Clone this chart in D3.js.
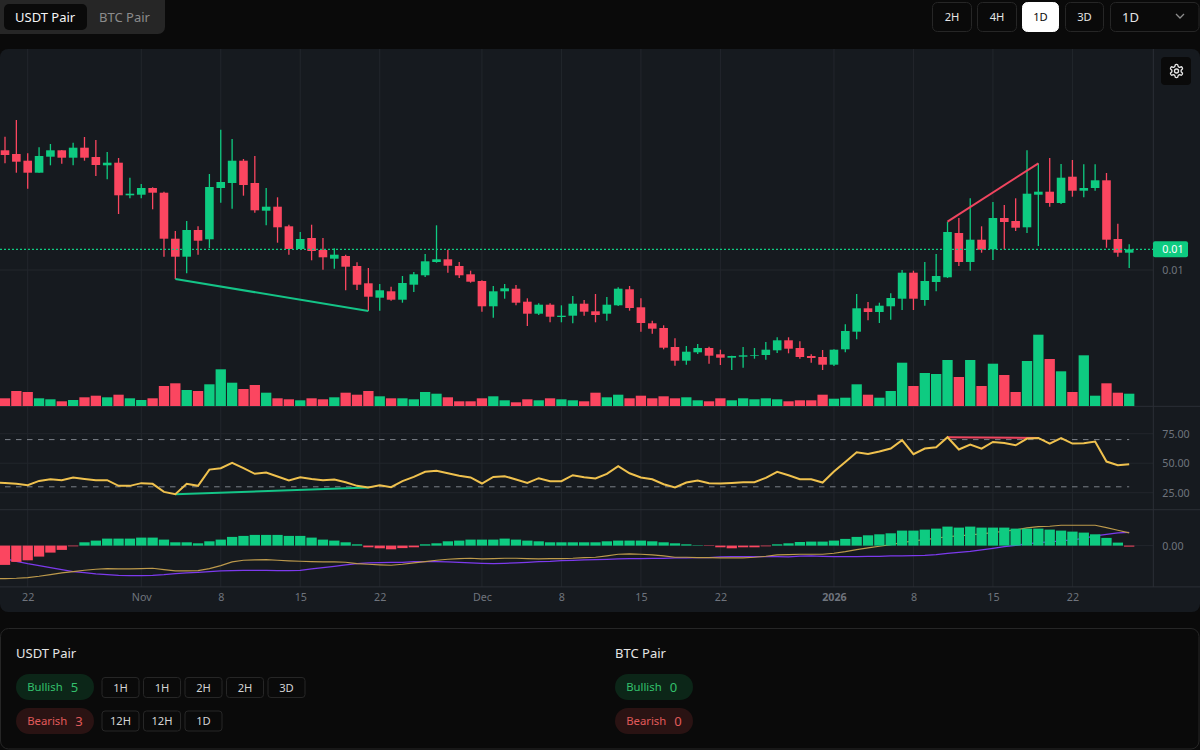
<!DOCTYPE html>
<html>
<head>
<meta charset="utf-8">
<script src="https://cdn.jsdelivr.net/npm/d3@7"></script>
<style>
    html, body { margin: 0; background: #0a0a0a; }
    svg { display: block; }
    text { font-family: "Noto Sans", sans-serif; }
</style>
</head>
<body>
<div id="chart"></div>
<script>
// prices are in units of 0.00001, so 1000 is the 0.01 grid line
const highs = [1133.3,1150,1116.7,1122.7,1126,1120,1127.3,1133,1130,1118,1112,1092.3,1086,1082.7,1078.3,1039,1049,1043.7,1096,1140.3,
    1131,1111,1114,1082,1072.7,1045.3,1038,1045.3,1032,1021.7,1015.3,1007.7,1002,986,983.3,994,998,1016,1044.7,1020.3,
    1008,999.3,989.7,984,986,985,971.7,966.7,966.7,964.7,974,970,976,973,982.7,984,971.7,949.3,944.7,931.7,
    924,926,923.3,920.3,914.3,923,922,928,932.7,932.7,928.7,915.7,920,920.7,945.7,976,968,967.3,976.7,1000,
    999.3,1008,1016,1048.3,1052,1071.7,1043.7,1068,1065,1071.7,1119.7,1106.7,1112,1106,1110,1105.7,1105.7,1097,1046.3,1025.7];
const opens = [1119.7,1116,1109.3,1097.3,1113.3,1119.7,1112.3,1122.3,1113,1104.7,1107.3,1074.7,1075.3,1082,1077.3,1031.3,1013.3,1040,1030.7,1082,
    1087,1109.3,1087,1059.3,1063.3,1043.7,1021,1032,1020,1011.3,1014,1004,986.7,972.3,978.7,970.3,985.3,994.7,1008,1010.7,
    1004,995.7,989,963.7,978.7,981.3,968.3,956.3,965.3,953,954.3,966.3,958.7,956.3,964.7,980.7,962.7,946.7,942,923,
    909.3,917.7,922,915.7,912.3,913.3,914.3,915,919.7,929.7,922,914,913,905.3,920.7,938.3,961.7,958,963.7,971.3,
    997.3,970,988,992.7,1037,1008,1030.3,1020.7,1052,1049,1042.7,1075.3,1078.3,1067,1093.3,1079.3,1082,1089.7,1031,1017.3];
const closes = [1115,1108.3,1097.3,1114,1119.7,1112.3,1122.3,1112.3,1105,1107.3,1074.7,1076.3,1082,1077.3,1031.3,1013.3,1040,1029.3,1083,1088,
    1109.3,1085,1059.7,1063.3,1042.7,1021,1031,1019,1012.7,1015.3,1003.3,985.3,973.3,979.7,970.3,987,995.7,1008.7,1010.7,1004.3,
    994.7,988.3,963.7,978.7,981.7,967.3,956.3,965.3,953.3,954.3,966.3,958.3,955,965.3,981.3,962,947,941.3,922.3,909.3,
    918.3,922,914.3,912.3,914,914.7,915,920.3,929.7,921.3,913,912,905.3,920.3,939,961.7,958,964.3,972,997.3,
    971.3,989,994,1038,1008,1030.3,1020.3,1052,1048,1042.3,1076.3,1078.3,1067,1092.3,1079.3,1082,1089.7,1030.3,1017.3,1020.7];
const lows = [1106.7,1097.3,1081.3,1097.3,1104.7,1106.3,1104.7,1109.3,1094,1090.7,1056,1071.7,1071.7,1060.7,1013.3,991,996.7,1015.3,1022,1067.3,
    1061.3,1074.3,1057.3,1044.7,1027.3,1015.3,1021,1009.7,1000.3,1001.3,979.7,980,959,959.3,969.3,967.3,978,993,1007.3,997.3,
    992,987.3,958.3,952.3,971.3,964.7,944,955,947.7,947.7,946.7,954.3,947.7,949.3,964,959.3,938.3,936.3,920.7,904.3,
    905.3,916,906.3,905,900,902.3,911.3,910.3,917,916.7,911.3,907.3,900,904,917.7,930.7,949.7,947,950.3,960,
    960,964.3,978.7,992,1004,999.3,1017.3,1010,1020.7,1039,1037,1024,1063.3,1066,1073.3,1072.7,1079.3,1022.3,1013.3,1002];
const volumes = [7.7,15,14,7.7,6.7,4.7,6,8.7,10.3,8.7,11.3,7.7,6,7.7,20,22.7,16,15,21.7,36.7,
    23.3,17,21,13.3,7.7,6.7,5.7,7.7,6.7,8.7,13.3,11.3,15,9.7,7.7,7.7,6.7,14,12.3,8.7,
    4.7,4.7,7.7,9.7,5.7,3.7,6.7,5.7,7.7,6.7,5.7,4.7,13.3,8.7,11.3,7.7,10.3,7.7,9.7,7.7,
    8.7,5.7,4.7,7.7,5.7,7.7,6.7,7.7,6.7,4.7,5.7,5.7,11.3,7.3,8.3,21.7,11.3,8.3,15,43.3,
    20,33,32,46,29,46,20,42.3,31,14,45,71.3,47,34.7,14,50.7,10.3,22.7,13.3,12.3];
const rsiValues = [33.3,32.5,31.4,35,36.4,35.6,37.9,36.7,35.6,35.6,30.8,30.8,33.1,32.5,25.7,23.7,32.5,30.8,44.6,45.8,
    50.3,45.8,41,42.1,38.7,35.3,38.1,36.7,35.6,36.2,33.9,30.8,29.4,31.4,29.7,34.8,38.4,42.7,43.5,41.5,
    39.3,37.9,32.8,38.4,39,36.2,33.3,37.3,34.8,34.8,39.8,38.1,37,41,47.5,41.5,37.9,36.4,32.2,29.4,
    33.6,35.3,33.1,32.8,33.3,33.9,33.9,37.6,42.7,39.8,36.4,36.4,33.6,42.9,51.1,59.3,57.9,59.9,62.4,69.5,
    57.6,62.4,63.5,72,61.6,65.8,62.4,68,67.2,65.2,70.9,71.4,66.6,71.2,66.6,66.9,68.3,51.4,48.3,49.1];
const macdHist = [-19.3,-16.3,-14.7,-11,-7,-4.3,-0.7,3.3,5,7,7,7,8,8,6,3.3,3.3,2.3,4.3,6,
    8.7,9.7,10.7,10.7,10.7,9.7,9.7,8,6,5,3.3,1.3,-1.7,-2.7,-3.7,-2.5,-1.7,1.3,2.3,4.3,
    5,6,6,6,7,6,5,4.3,3.3,3.3,3.3,3.3,3.3,4.3,5,5,5,4.3,3.3,2.3,
    1.3,0.4,-0.4,-1.7,-2.7,-1.7,-1.7,-0.7,1.3,2.3,3.6,4,4,5,6.7,8.7,10.3,11.3,12.3,15,
    15,16,17,19,18,19,18,18,18,17,17,17,16,15,14,13,11.3,7.7,3,-1];
const macdLine = [-33,-32.7,-32,-30.7,-29,-27.3,-26,-24.7,-23.7,-23,-23.3,-23.3,-23,-22.7,-24,-25.3,-25.3,-25,-23,-20,
    -16.3,-14.7,-14.3,-14,-14.7,-15.3,-15.7,-16,-16.3,-16.3,-16.7,-18,-18.7,-19.3,-19.7,-18.7,-17.3,-16,-14.7,-13.7,
    -13,-12.7,-13.3,-13,-12.7,-12.7,-13,-13.3,-13,-13,-12.7,-12,-11.7,-10.3,-8.7,-8.3,-8.7,-9.3,-10.3,-11.7,
    -11.7,-12,-12,-12.3,-12.3,-12.3,-11.7,-10.7,-9.3,-9,-8.7,-8.7,-8.7,-7.7,-6,-4,-2.3,-0.7,1,3,
    4.7,6,7.3,9,9.7,10.7,11.7,13,14.3,15.7,17.7,19,19.3,20.3,20.3,20.3,20.3,18,15.3,12.7];
const macdSignal = [-13,-15.7,-18,-20,-22,-24,-26,-27,-28.3,-29,-29.7,-30,-30,-29.7,-29,-28,-27.3,-26.7,-26,-25.3,
    -25,-24.7,-24.7,-24.7,-25,-25,-24.7,-23.3,-22,-20.7,-19.3,-18,-17.3,-17,-16.7,-16.7,-16,-16,-16,-16.3,
    -16.7,-17.3,-17.7,-18,-17.7,-17.3,-16.7,-16,-15.7,-15,-14.7,-14.3,-14,-13.7,-13.3,-13,-13,-12.7,-12.7,-12.3,
    -12.3,-12,-12,-11.3,-11,-11,-11,-11,-11,-11.3,-10.5,-10.3,-10.7,-11,-11,-11,-10.7,-10.7,-10.3,-10.3,
    -10,-9.7,-9,-7.7,-6.7,-5.7,-4.3,-2.7,-1,0.3,1.7,3,3.7,4.7,5.7,7.3,9.7,11.3,12.7,13.3];

// the indicator lines carry on past the left edge, these are the points of the day before
const rsiLead = 33.4;
const macdLineLead = -33.1;
const macdSignalLead = -10;

const firstDay = "2025-10-20";
const lastDay = "2026-01-28";
const tickDates = ["2025-10-22","2025-11-01","2025-11-08","2025-11-15","2025-11-22","2025-12-01","2025-12-08","2025-12-15","2025-12-22","2026-01-01","2026-01-08","2026-01-15","2026-01-22"];
const tickLabels = ["22","Nov","8","15","22","Dec","8","15","22","2026","8","15","22"];
const priceTicks = [1000];
const rsiTicks = [25, 50, 75];
const rsiBands = [30, 70];
const macdTicks = [0];
const bullishDivergence = [15, 32];
const bearishDivergence = [83, 91];

const tabLabels = ["USDT Pair", "BTC Pair"];
const intervalButtons = ["2H", "4H", "1D", "3D"];
const selectedInterval = "1D";
const signalPairs = ["USDT Pair", "BTC Pair"];
const bullishCounts = [5, 0];
const bearishCounts = [3, 0];
const usdtBullishChips = ["1H", "1H", "2H", "2H", "3D"];
const usdtBearishChips = ["12H", "12H", "1D"];

const green = "#0ecb81";
const red = "#fb4660";
const gridColor = "#22262c";
const axisText = "#6f747d";

const width = 1200;
const height = 750;
const plotRight = 1153.3;

const svg = d3.select("#chart").append("svg")
    .attr("width", width)
    .attr("height", height);

const parseDay = d3.utcParse("%Y-%m-%d");
const days = d3.utcDay.range(parseDay(firstDay), parseDay(lastDay));
const leadDay = d3.utcDay.offset(days[0], -1);
const x = d3.scaleUtc()
    .domain([days[0], days[days.length - 1]])
    .range([5, 1129.2]);

const yPrice = d3.scaleLinear().domain([900, 1100]).range([370, 170]);
const yVolume = d3.scaleLinear().domain([0, 100]).range([406, 306]);
const yRsi = d3.scaleLinear().domain([25, 75]).range([492.7, 433.7]);
const yMacd = d3.scaleLinear().domain([-40, 40]).range([585.6, 505.6]);

// panel
svg.append("rect")
    .attr("y", 49).attr("width", width).attr("height", 563).attr("rx", 8)
    .attr("fill", "#161a1f");

// grid
const tickDays = tickDates.map(parseDay);
const grid = svg.append("g").attr("stroke", gridColor).attr("stroke-width", 1);
grid.selectAll(".v").data(tickDays).enter().append("line")
    .attr("x1", d => x(d)).attr("x2", d => x(d))
    .attr("y1", 49).attr("y2", 587);

const hLines = [].concat(
    priceTicks.map(d => yPrice(d)),
    rsiTicks.map(d => yRsi(d)),
    macdTicks.map(d => yMacd(d))
);
grid.selectAll(".h").data(hLines).enter().append("line")
    .attr("x1", 0).attr("x2", plotRight)
    .attr("y1", d => d).attr("y2", d => d);

// pane borders
const borders = svg.append("g").attr("stroke", "#2b2f36");
borders.selectAll(".pane").data([406.3, 509.7, 586.9]).enter().append("line")
    .attr("x1", 0).attr("x2", width)
    .attr("y1", d => d).attr("y2", d => d);
borders.append("line")
    .attr("x1", plotRight).attr("x2", plotRight)
    .attr("y1", 49).attr("y2", 587);

const isUp = i => closes[i] >= opens[i];
const colorOf = i => isUp(i) ? green : red;

// volume
svg.append("g").selectAll("rect").data(volumes).enter().append("rect")
    .attr("x", (d, i) => x(days[i]) - 5.15)
    .attr("width", 10.3)
    .attr("y", d => yVolume(d))
    .attr("height", d => yVolume(0) - yVolume(d))
    .attr("fill", (d, i) => colorOf(i));

// candles
const candles = svg.append("g").selectAll("g").data(days).enter().append("g");
candles.append("line")
    .attr("x1", d => x(d)).attr("x2", d => x(d))
    .attr("y1", (d, i) => yPrice(highs[i]))
    .attr("y2", (d, i) => yPrice(lows[i]))
    .attr("stroke", (d, i) => colorOf(i))
    .attr("stroke-width", 1.3);
candles.append("rect")
    .attr("x", d => x(d) - 4.3)
    .attr("width", 8.6)
    .attr("y", (d, i) => yPrice(Math.max(opens[i], closes[i])))
    .attr("height", (d, i) => Math.abs(yPrice(opens[i]) - yPrice(closes[i])))
    .attr("fill", (d, i) => colorOf(i));

// last price
const lastClose = closes[closes.length - 1];
svg.append("line")
    .attr("x1", 0).attr("x2", plotRight)
    .attr("y1", yPrice(lastClose)).attr("y2", yPrice(lastClose))
    .attr("stroke", green).attr("stroke-width", 1.2)
    .attr("stroke-dasharray", "2 2");

// divergence lines
function drawDivergence(xs, yFn, values, color) {
    svg.append("line")
        .attr("x1", x(days[xs[0]])).attr("x2", x(days[xs[1]]))
        .attr("y1", yFn(values[xs[0]])).attr("y2", yFn(values[xs[1]]))
        .attr("stroke", color).attr("stroke-width", 2);
}
drawDivergence(bullishDivergence, yPrice, lows, "#14c487");
drawDivergence(bearishDivergence, yPrice, highs, "#f0455f");

// rsi
svg.append("g").selectAll("line").data(rsiBands).enter().append("line")
    .attr("x1", x(days[0])).attr("x2", x(days[days.length - 1]))
    .attr("y1", d => yRsi(d)).attr("y2", d => yRsi(d))
    .attr("stroke", "#7b8088").attr("stroke-dasharray", "5.5 5.5");

drawDivergence(bullishDivergence, yRsi, rsiValues, "#14c487");
drawDivergence(bearishDivergence, yRsi, rsiValues, "#f0455f");

const lineDays = [leadDay].concat(days);
const lineOver = (y, values) => d3.line()
    .x(d => x(d))
    .y((d, i) => y(values[i]));

svg.append("path").datum(lineDays)
    .attr("d", lineOver(yRsi, [rsiLead].concat(rsiValues)))
    .attr("fill", "none").attr("stroke", "#efc14e").attr("stroke-width", 2);

// macd
svg.append("path").datum(lineDays)
    .attr("d", lineOver(yMacd, [macdSignalLead].concat(macdSignal)))
    .attr("fill", "none").attr("stroke", "#7c3aed").attr("stroke-width", 1.3);
svg.append("path").datum(lineDays)
    .attr("d", lineOver(yMacd, [macdLineLead].concat(macdLine)))
    .attr("fill", "none").attr("stroke", "#bd9a4c").attr("stroke-width", 1.1);

svg.append("g").selectAll("rect").data(macdHist).enter().append("rect")
    .attr("x", (d, i) => x(days[i]) - 5.15)
    .attr("width", 10.3)
    .attr("y", d => yMacd(Math.max(0, d)))
    .attr("height", d => Math.abs(yMacd(d) - yMacd(0)))
    .attr("fill", d => d >= 0 ? green : red);

// axes
const xAxis = d3.axisBottom(x)
    .tickValues(tickDays)
    .tickSize(0)
    .tickPadding(6)
    .tickFormat((d, i) => tickLabels[i]);
const xAxisG = svg.append("g").attr("transform", "translate(0,587)").call(xAxis);
xAxisG.select(".domain").remove();
xAxisG.selectAll("text")
    .attr("fill", axisText).attr("font-size", 10.7)
    .attr("font-weight", (d, i) => tickLabels[i] === "2026" ? 700 : 400)
    .attr("font-family", "Noto Sans");

function rightAxis(scale, ticks, format) {
    const g = svg.append("g")
        .attr("transform", `translate(${plotRight},0)`)
        .call(d3.axisRight(scale).tickValues(ticks).tickSize(0).tickPadding(9).tickFormat(format));
    g.select(".domain").remove();
    g.selectAll("text")
        .attr("fill", axisText).attr("font-size", 10.7)
        .attr("font-family", "Noto Sans");
}
rightAxis(yPrice, priceTicks, d => (d * 1e-5).toFixed(2));
rightAxis(yRsi, rsiTicks, d3.format(".2f"));
rightAxis(yMacd, macdTicks, d3.format(".2f"));

// last price pill
svg.append("rect")
    .attr("x", 1153).attr("y", yPrice(lastClose) - 8)
    .attr("width", 35).attr("height", 16).attr("rx", 2)
    .attr("fill", green);
svg.append("text")
    .attr("x", 1162.3).attr("y", yPrice(lastClose) + 4)
    .attr("fill", "#ffffff").attr("font-size", 10.7)
    .text((lastClose * 1e-5).toFixed(2));

// settings button
svg.append("rect")
    .attr("x", 1161).attr("y", 57).attr("width", 30).attr("height", 28).attr("rx", 4)
    .attr("fill", "#0a0a0a");
const gear = svg.append("g")
    .attr("transform", "translate(1168.5,63) scale(0.667)")
    .attr("fill", "none").attr("stroke", "#e5e5e5").attr("stroke-width", 2)
    .attr("stroke-linecap", "round").attr("stroke-linejoin", "round");
gear.append("path").attr("d", "M12.22 2h-.44a2 2 0 0 0-2 2v.18a2 2 0 0 1-1 1.73l-.43.25a2 2 0 0 1-2 0l-.15-.08a2 2 0 0 0-2.73.73l-.22.38a2 2 0 0 0 .73 2.73l.15.1a2 2 0 0 1 1 1.72v.51a2 2 0 0 1-1 1.74l-.15.09a2 2 0 0 0-.73 2.73l.22.38a2 2 0 0 0 2.73.73l.15-.08a2 2 0 0 1 2 0l.43.25a2 2 0 0 1 1 1.73V20a2 2 0 0 0 2 2h.44a2 2 0 0 0 2-2v-.18a2 2 0 0 1 1-1.73l.43-.25a2 2 0 0 1 2 0l.15.08a2 2 0 0 0 2.73-.73l.22-.39a2 2 0 0 0-.73-2.73l-.15-.08a2 2 0 0 1-1-1.74v-.5a2 2 0 0 1 1-1.74l.15-.09a2 2 0 0 0 .73-2.73l-.22-.38a2 2 0 0 0-2.73-.73l-.15.08a2 2 0 0 1-2 0l-.43-.25a2 2 0 0 1-1-1.73V4a2 2 0 0 0-2-2z");
gear.append("circle").attr("cx", 12).attr("cy", 12).attr("r", 3);

// top left tabs
svg.append("rect").attr("x", -6).attr("y", -6).attr("width", 171).attr("height", 40).attr("rx", 7).attr("fill", "#262626");
svg.append("rect").attr("x", 4).attr("y", 4).attr("width", 83).attr("height", 26).attr("rx", 5).attr("fill", "#0a0a0a");
svg.selectAll(".tab").data(tabLabels).enter().append("text")
    .attr("x", (d, i) => i === 0 ? 15 : 99)
    .attr("y", 21.5)
    .attr("font-size", 13)
    .attr("fill", (d, i) => i === 0 ? "#f5f5f5" : "#8c8c8c")
    .text(d => d);

// top right interval buttons
const buttonX = [932, 977, 1022, 1065];
const buttonW = [40, 40, 37, 39];
const buttons = svg.selectAll(".interval").data(intervalButtons).enter().append("g");
buttons.append("rect")
    .attr("x", (d, i) => buttonX[i] + 0.5).attr("y", 2.5)
    .attr("width", (d, i) => buttonW[i] - 1).attr("height", 29).attr("rx", 5)
    .attr("fill", (d, i) => d === selectedInterval ? "#ffffff" : "#0a0a0a")
    .attr("stroke", (d, i) => d === selectedInterval ? "#ffffff" : "#262626");
buttons.append("text")
    .attr("x", (d, i) => buttonX[i] + buttonW[i] / 2).attr("y", 21)
    .attr("text-anchor", "middle").attr("font-size", 11.2)
    .attr("fill", d => d === selectedInterval ? "#0a0a0a" : "#e5e5e5")
    .text(d => d);

svg.append("rect").attr("x", 1110.5).attr("y", 2.5).attr("width", 88.5).attr("height", 29).attr("rx", 5)
    .attr("fill", "#0a0a0a").attr("stroke", "#262626");
svg.append("text").attr("x", 1122).attr("y", 21.5).attr("font-size", 13).attr("fill", "#e5e5e5").text(selectedInterval);
svg.append("path").attr("d", "M1176 14l4 4l4 -4").attr("fill", "none").attr("stroke", "#8c8c8c").attr("stroke-width", 1.3);

// signal summary panel
svg.append("rect").attr("x", 0.5).attr("y", 628.5).attr("width", 1198.5).attr("height", 120.5).attr("rx", 8)
    .attr("fill", "#0a0a0a").attr("stroke", "#262626");

const pairX = [16, 615];
const pillRows = [
    { label: "Bullish", counts: bullishCounts, y: 674, bg: "#0c2618", countX: 54.7, color: "#33c06c" },
    { label: "Bearish", counts: bearishCounts, y: 708, bg: "#2a1313", countX: 59.2, color: "#e05a5a" }
];

signalPairs.forEach((name, p) => {
    svg.append("text").attr("x", pairX[p]).attr("y", 657.5)
        .attr("font-size", 13).attr("fill", "#e5e5e5").text(name);
    pillRows.forEach(row => {
        svg.append("rect").attr("x", pairX[p]).attr("y", row.y)
            .attr("width", 78).attr("height", 26).attr("rx", 13).attr("fill", row.bg);
        svg.append("text").attr("x", pairX[p] + 11.2).attr("y", row.y + 17)
            .attr("font-size", 11.3).attr("fill", row.color).text(row.label);
        svg.append("text").attr("x", pairX[p] + row.countX).attr("y", row.y + 17.7)
            .attr("font-size", 13).attr("fill", row.color).text(row.counts[p]);
    });
});

function drawChips(chips, top) {
    const chip = svg.selectAll(null).data(chips).enter().append("g");
    chip.append("rect")
        .attr("x", (d, i) => 102 + i * 41.5).attr("y", top + 0.5)
        .attr("width", 37).attr("height", 20).attr("rx", 3)
        .attr("fill", "#0a0a0a").attr("stroke", "#262626");
    chip.append("text")
        .attr("x", (d, i) => 120.5 + i * 41.5).attr("y", top + 14.7)
        .attr("text-anchor", "middle").attr("font-size", 11.2)
        .attr("fill", "#d4d4d4").text(d => d);
}
drawChips(usdtBullishChips, 677);
drawChips(usdtBearishChips, 710.5);
</script>
</body>
</html>
